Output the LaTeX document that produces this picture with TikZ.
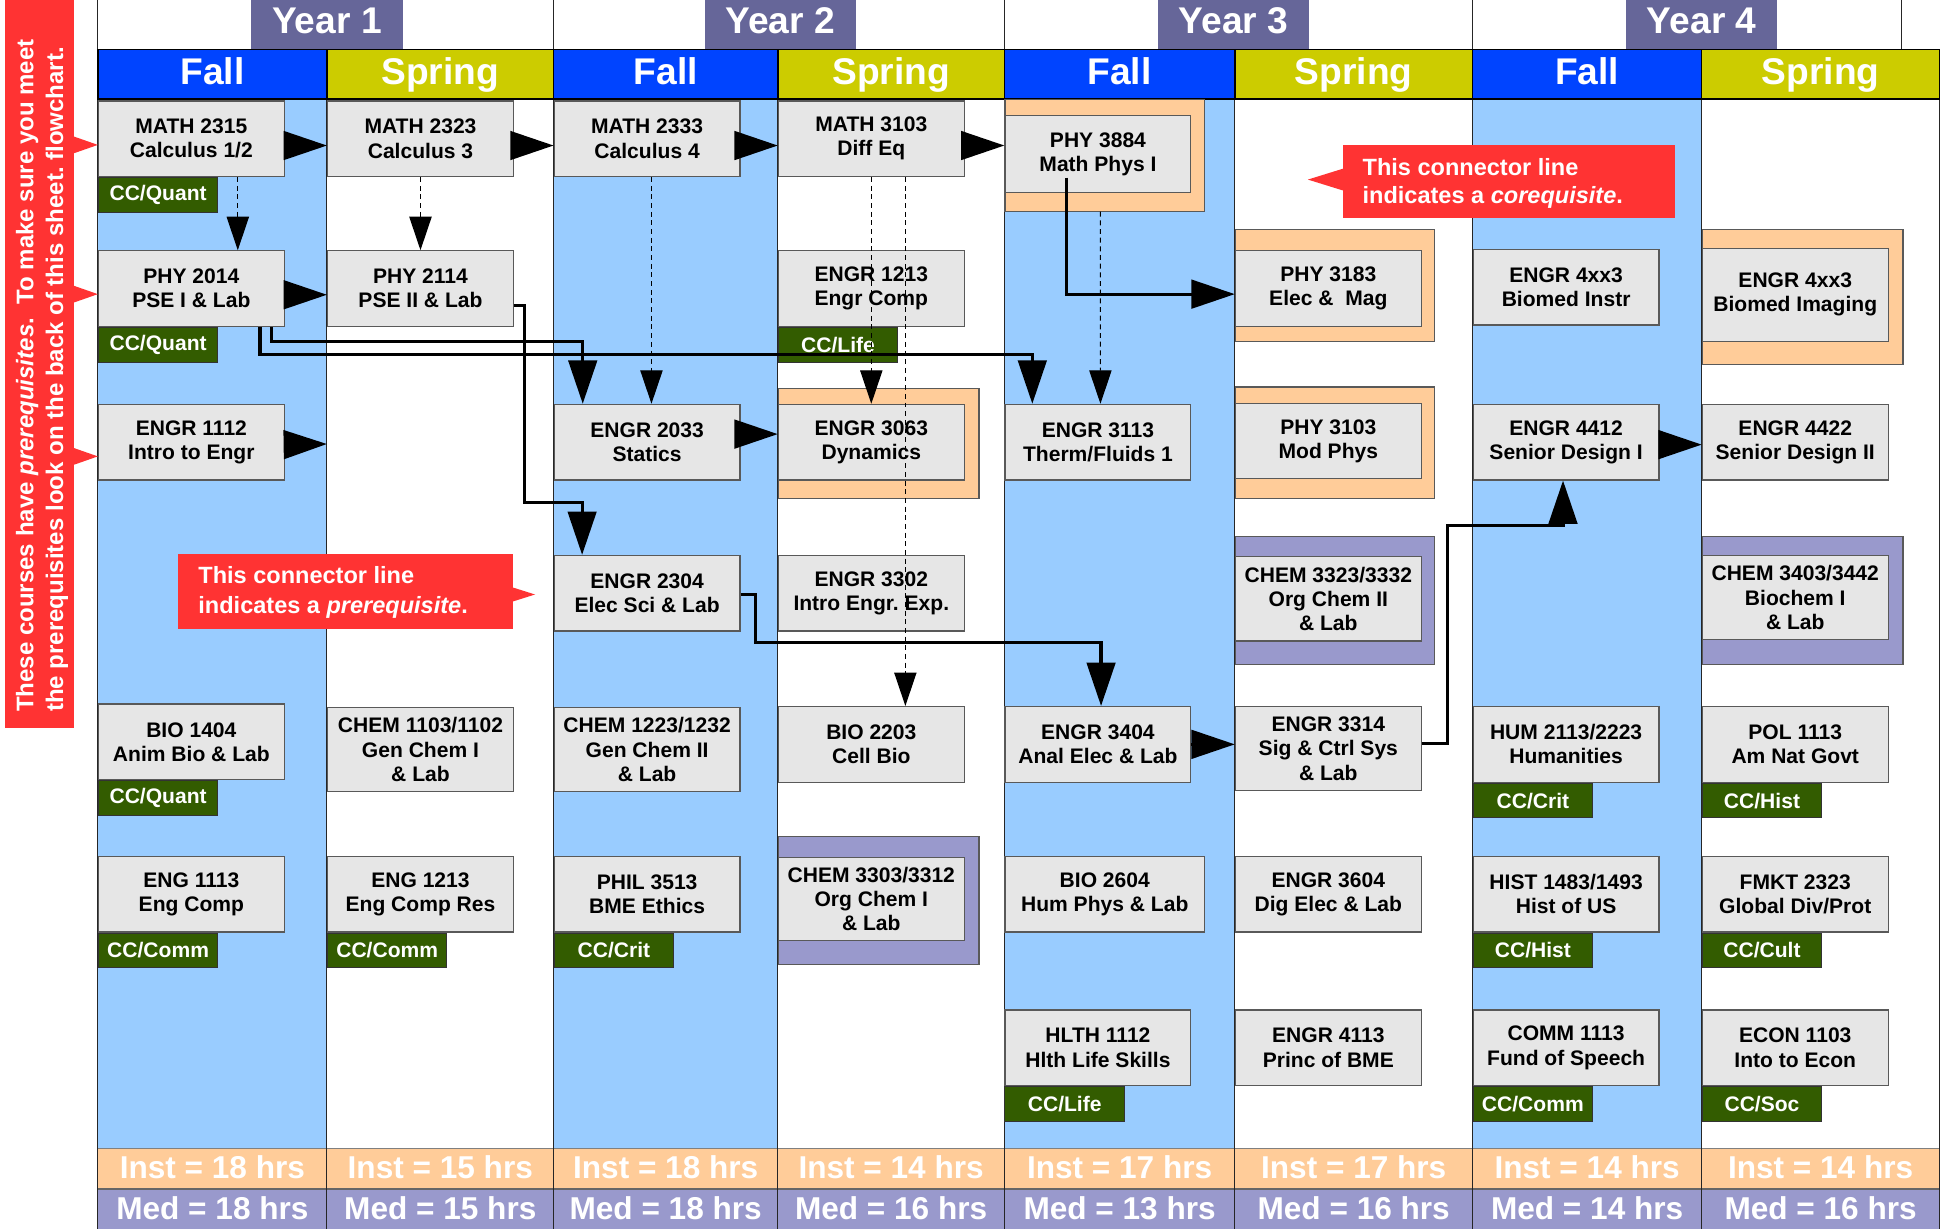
\documentclass[tikz,border=0pt]{standalone}
\usepackage{fontspec}
\setmainfont{Liberation Sans}
\usetikzlibrary{arrows.meta}
\definecolor{fallhdr}{RGB}{0,68,255}
\definecolor{springhdr}{RGB}{204,204,0}
\definecolor{yeartab}{RGB}{102,102,153}
\definecolor{fallbg}{RGB}{153,204,255}
\definecolor{peach}{RGB}{255,204,153}
\definecolor{lavender}{RGB}{153,153,204}
\definecolor{calloutred}{RGB}{255,51,51}
\definecolor{taggreen}{RGB}{51,92,0}
\definecolor{boxgray}{RGB}{230,230,230}
\frenchspacing
\begin{document}
\begin{tikzpicture}[x=1pt,y=-1pt,
  course/.style={draw=black!65, line width=1pt, fill=boxgray, anchor=north west,
    minimum width=150pt, minimum height=61pt, inner sep=0pt, align=center,
    font=\fontsize{17}{19.5}\selectfont\bfseries},
  tag/.style={draw=black!80, line width=0.8pt, fill=taggreen, anchor=north west,
    minimum width=96.5pt, minimum height=28pt, inner sep=0pt, text=white,
    font=\fontsize{17}{19}\selectfont\bfseries},
  peachframe/.style={draw=black!65, line width=0.9pt, fill=peach, anchor=north west, inner sep=0pt},
  lavframe/.style={draw=black!65, line width=0.9pt, fill=lavender, anchor=north west, inner sep=0pt},
  hdrtext/.style={text=white, anchor=base, inner sep=0pt, font=\fontsize{30}{32}\selectfont\bfseries},
  sumtext/.style={text=white, anchor=base, inner sep=0pt, font=\fontsize{25.5}{27}\selectfont\bfseries},
  notetext/.style={text=white, anchor=base west, inner sep=0pt, font=\fontsize{19}{21}\selectfont\bfseries},
  bannertext/.style={text=white, anchor=base west, rotate=90, inner sep=0pt, font=\fontsize{19.4}{21}\selectfont\bfseries},
  colline/.style={draw=black!85, line width=0.8pt},
  pre/.style={draw=black, line width=2.6pt, -{Triangle[length=35pt,width=23pt]}},
  co/.style={draw=black, line width=0.9pt, dash pattern=on 4pt off 3pt, -{Triangle[length=27pt,width=18pt]}}
]
\useasboundingbox (0,0) rectangle (1568,992);
\fill[white] (0,0) rectangle (1568,992);

% ---------- column backgrounds ----------
\foreach \a/\b in {79/264,447/628,811/997,1189/1374}
  \fill[fallbg] (\a,80) rectangle (\b,927);
% ---------- summary rows ----------
\fill[peach] (79,927) rectangle (1566,960);
\fill[lavender] (79,960) rectangle (1566,992);
\draw[draw=black!50, line width=0.8pt] (79,927) -- (1566,927);
\draw[draw=black!60, line width=1.6pt] (79,960) -- (1566,960);
\foreach \x in {79,264,447,628,811,997,1189,1374,1566}
  \draw[colline] (\x,80) -- (\x,992);
% ---------- year row ----------
\foreach \x in {79,447,811,1189,1535}
  \draw[colline] (\x,0) -- (\x,40);
\foreach \c/\n in {264/1,630/2,996/3,1374/4}{
  \fill[yeartab] (\c-61,0) rectangle (\c+61,40);
  \node[hdrtext] (year\n) at (\c,27) {Year \n};
}
% ---------- semester header ----------
\foreach \a/\b/\col/\t/\n in {79/264/fallhdr/Fall/1,264/447/springhdr/Spring/2,447/628/fallhdr/Fall/3,628/811/springhdr/Spring/4,811/997/fallhdr/Fall/5,997/1189/springhdr/Spring/6,1189/1374/fallhdr/Fall/7,1374/1566/springhdr/Spring/8}{
  \filldraw[fill=\col, draw=black, line width=1.2pt] (\a,40) rectangle (\b,80);
  \node[hdrtext] (sem\n) at ({(\a+\b)/2},68) {\t};
}
% ---------- Inst / Med ----------
\foreach \a/\b/\i/\m/\n in {79/264/18/18/1,264/447/15/15/2,447/628/18/18/3,628/811/14/16/4,811/997/17/13/5,997/1189/17/16/6,1189/1374/14/14/7,1374/1566/14/16/8}{
  \node[sumtext] (inst\n) at ({(\a+\b)/2},951.5) {Inst = \i\ hrs};
  \node[sumtext] (med\n) at ({(\a+\b)/2},984.5) {Med = \m\ hrs};
}

% ---------- left banner ----------
\fill[calloutred] (4,0) rectangle (60,588);
\foreach \y in {117,237.5,368.5}
  \fill[calloutred] (59,\y-7) -- (79,\y) -- (59,\y+7) -- cycle;
\node[bannertext] (bannerA) at (27,575) {These courses have \textit{prerequisites}.~~To make sure you meet};
\node[bannertext] (bannerB) at (51,575) {the prerequisites look on the back of this sheet. flowchart.};

% ---------- frames ----------
\node[peachframe, minimum width=162pt, minimum height=89pt] (e3063f) at (628,313) {};
\node[lavframe, minimum width=162pt, minimum height=103pt] (c3303f) at (628,675) {};
\node[peachframe, minimum width=161pt, minimum height=90pt] (p3884f) at (811,80) {};
\node[peachframe, minimum width=161pt, minimum height=90pt] (p3183f) at (997,185) {};
\node[peachframe, minimum width=161pt, minimum height=90pt] (p3103f) at (997,312) {};
\node[lavframe, minimum width=161pt, minimum height=103pt] (c3323f) at (997,433) {};
\node[peachframe, minimum width=162pt, minimum height=109pt] (e4xx3bf) at (1374,185) {};
\node[lavframe, minimum width=162pt, minimum height=103pt] (c3403f) at (1374,433) {};

% ---------- courses: Year 1 Fall ----------
\node[course] (m2315) at (79,81) {MATH 2315\\Calculus 1/2};
\node[course] (p2014) at (79,202) {PHY 2014\\PSE I \& Lab};
\node[course] (e1112) at (79,326) {ENGR 1112\\Intro to Engr};
\node[course] (b1404) at (79,568) {BIO 1404\\Anim Bio \& Lab};
\node[course] (g1113) at (79,691) {ENG 1113\\Eng Comp};
% Year 1 Spring
\node[course] (m2323) at (264,81) {MATH 2323\\Calculus 3};
\node[course] (p2114) at (264,202) {PHY 2114\\PSE II \& Lab};
\node[course, minimum height=67.5pt] (c1103) at (264,571) {CHEM 1103/1102\\Gen Chem I\\\& Lab};
\node[course] (g1213) at (264,691) {ENG 1213\\Eng Comp Res};
% Year 2 Fall
\node[course] (m2333) at (447,81) {MATH 2333\\Calculus 4};
\node[course] (e2033) at (447,326) {ENGR 2033\\Statics};
\node[course] (e2304) at (447,448) {ENGR 2304\\Elec Sci \& Lab};
\node[course, minimum height=67.5pt] (c1223) at (447,571) {CHEM 1223/1232\\Gen Chem II\\\& Lab};
\node[course] (ph3513) at (447,691) {PHIL 3513\\BME Ethics};
% Year 2 Spring
\node[course] (m3103) at (628,81) {MATH 3103\\Diff Eq};
\node[course] (e1213) at (628,202) {ENGR 1213\\Engr Comp};
\node[course] (e3063) at (628,326) {ENGR 3063\\Dynamics};
\node[course] (e3302) at (628,448) {ENGR 3302\\Intro Engr. Exp.};
\node[course] (b2203) at (628,570) {BIO 2203\\Cell Bio};
\node[course, minimum height=67pt] (c3303) at (628,692) {CHEM 3303/3312\\Org Chem I\\\& Lab};
% Year 3 Fall
\node[course, minimum height=62pt] (p3884) at (811,93) {PHY 3884\\Math Phys I};
\node[course] (e3113) at (811,326) {ENGR 3113\\Therm/Fluids 1};
\node[course] (e3404) at (811,570) {ENGR 3404\\Anal Elec \& Lab};
\node[course, minimum width=161pt] (b2604) at (811,691) {BIO 2604\\Hum Phys \& Lab};
\node[course] (h1112) at (811,815) {HLTH 1112\\Hlth Life Skills};
% Year 3 Spring
\node[course] (p3183) at (997,202) {PHY 3183\\Elec \&\ \ Mag};
\node[course] (p3103) at (997,325) {PHY 3103\\Mod Phys};
\node[course, minimum height=68pt] (c3323) at (997,449) {CHEM 3323/3332\\Org Chem II\\\& Lab};
\node[course, minimum height=68pt] (e3314) at (997,570) {ENGR 3314\\Sig \& Ctrl Sys\\\& Lab};
\node[course] (e3604) at (997,691) {ENGR 3604\\Dig Elec \& Lab};
\node[course] (e4113) at (997,815) {ENGR 4113\\Princ of BME};
% Year 4 Fall
\node[course] (e4xx3a) at (1189,201) {ENGR 4xx3\\Biomed Instr};
\node[course] (e4412) at (1189,326) {ENGR 4412\\Senior Design I};
\node[course] (hum) at (1189,570) {HUM 2113/2223\\Humanities};
\node[course] (hist) at (1189,691) {HIST 1483/1493\\Hist of US};
\node[course] (comm) at (1189,815) {COMM 1113\\Fund of Speech};
% Year 4 Spring
\node[course, minimum height=75pt] (e4xx3b) at (1374,200) {ENGR 4xx3\\Biomed Imaging};
\node[course] (e4422) at (1374,326) {ENGR 4422\\Senior Design II};
\node[course, minimum height=68pt] (c3403) at (1374,448) {CHEM 3403/3442\\Biochem I\\\& Lab};
\node[course] (pol) at (1374,570) {POL 1113\\Am Nat Govt};
\node[course] (fmkt) at (1374,691) {FMKT 2323\\Global Div/Prot};
\node[course] (econ) at (1374,815) {ECON 1103\\Into to Econ};

% ---------- core-curriculum tags ----------
\node[tag] (t1) at (m2315.south west) {CC/Quant};
\node[tag] (t2) at (p2014.south west) {CC/Quant};
\node[tag] (t3) at (b1404.south west) {CC/Quant};
\node[tag] (t4) at (g1113.south west) {CC/Comm};
\node[tag] (t5) at (g1213.south west) {CC/Comm};
\node[tag] (t6) at (ph3513.south west) {CC/Crit};
\node[tag] (t7) at (e1213.south west) {CC/Life};
\node[tag] (t8) at (h1112.south west) {CC/Life};
\node[tag] (t9) at (hum.south west) {CC/Crit};
\node[tag] (t10) at (hist.south west) {CC/Hist};
\node[tag] (t11) at (comm.south west) {CC/Comm};
\node[tag] (t12) at (pol.south west) {CC/Hist};
\node[tag] (t13) at (fmkt.south west) {CC/Cult};
\node[tag] (t14) at (econ.south west) {CC/Soc};

% ---------- callouts ----------
\fill[calloutred] (144,447) rectangle (414,508);
\fill[calloutred] (413,474) -- (432,480) -- (413,486) -- cycle;
\node[notetext] (preA) at (160,471.5) {This connector line};
\node[notetext] (preB) at (160,495) {indicates a \textit{prerequisite}.};
\fill[calloutred] (1084,117) rectangle (1352,176);
\fill[calloutred] (1085,136) -- (1056,145) -- (1085,154) -- cycle;
\node[notetext] (coA) at (1100,141.5) {This connector line};
\node[notetext] (coB) at (1100,164.5) {indicates a \textit{corequisite}.};

% ---------- connectors ----------
\coordinate (e1112end) at (264,358.5);
\draw[pre] ([yshift=-5.5pt]m2315.east) -- ([yshift=-5.5pt]m2315.east -| m2323.west);
\draw[pre] ([yshift=-5.5pt]m2323.east) -- ([yshift=-5.5pt]m2323.east -| m2333.west);
\draw[pre] ([yshift=-5.5pt]m2333.east) -- ([yshift=-5.5pt]m2333.east -| m3103.west);
\draw[pre] ([yshift=-5.5pt]m3103.east) -- ([yshift=-5.5pt]m3103.east -| p3884.west);
\draw[pre] ([yshift=-5pt]p2014.east) -- ([yshift=-5pt]p2014.east -| p2114.west);
\draw[pre] ([yshift=-2pt]e1112.east) -- (e1112end);
\draw[pre] ([yshift=6.5pt]e2033.east) -- ([yshift=6.5pt]e2033.east -| e3063.west);
\draw[pre] (e3404.east) -- (e3404.east -| e3314.west);
\draw[pre] ([yshift=-2pt]e4412.east) -- ([yshift=-2pt]e4412.east -| e4422.west);

\draw[pre] ([xshift=65pt]p2014.south) -- ++(0,12) -| ([xshift=-52pt]e2033.north);
\draw[pre] ([xshift=55.5pt]p2014.south) -- ++(0,22) -| ([xshift=-53pt]e3113.north);
\draw[pre] ([yshift=-13.5pt]p2114.east) -- ++(8.7,0) -- ++(0,159) -| ([xshift=-52.5pt]e2304.north);
\draw[pre] ([yshift=-1pt]e2304.east) -- ++(12,0) -- ++(0,38.5) -| ([xshift=2.5pt]e3404.north);
\draw[pre] ([xshift=-25.5pt,yshift=-19pt]p3884.center) |- ([yshift=-4.5pt]p3183.west);
\draw[pre] ([yshift=4pt]e3314.east) -- ++(21,0) -- ++(0,-176) -| ([xshift=-2.5pt]e4412.south);

\draw[co] ([xshift=37.5pt]m2315.south) -- ([xshift=37.5pt]p2014.north);
\draw[co] (m2323.south) -- (p2114.north);
\draw[co] ([xshift=3.5pt]m2333.south) -- ([xshift=3.5pt]e2033.north);
\draw[co] (m3103.south) -- (e3063.north);
\draw[co] ([xshift=27.5pt]m3103.south) -- ([xshift=27.5pt]b2203.north);
\draw[co] ([xshift=-3.5pt]p3884f.south) -- ([xshift=2pt]e3113.north);
\end{tikzpicture}
\end{document}
